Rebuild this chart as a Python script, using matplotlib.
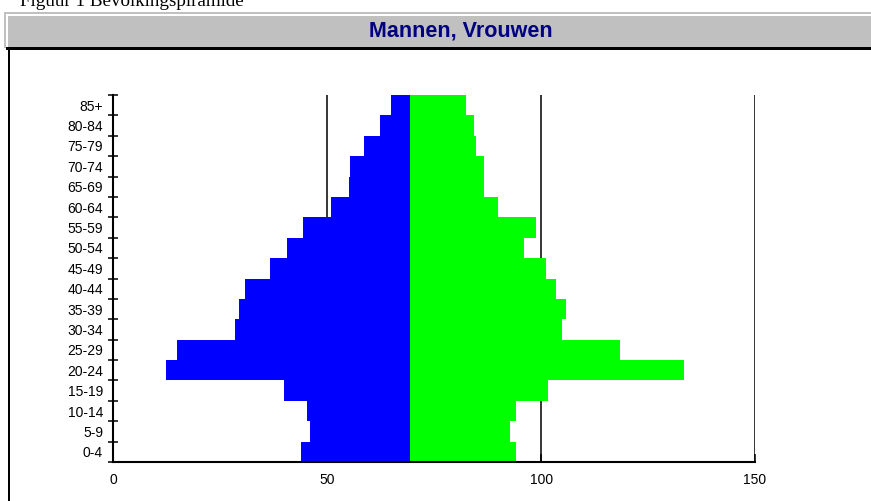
import matplotlib
matplotlib.use('Agg')
import matplotlib.pyplot as plt
from matplotlib.patches import Rectangle
import numpy as np

age_groups = ['0-4', '5-9', '10-14', '15-19', '20-24', '25-29', '30-34', '35-39',
              '40-44', '45-49', '50-54', '55-59', '60-64', '65-69', '70-74',
              '75-79', '80-84', '85+']
mannen = [25.6, 23.4, 24.2, 29.4, 57.0, 54.6, 41.0, 40.1, 38.7, 32.7,
          28.9, 25.1, 18.6, 14.4, 14.0, 10.7, 7.0, 4.6]
vrouwen = [24.7, 23.3, 24.7, 32.1, 63.9, 49.0, 35.5, 36.3, 34.0, 31.7,
           26.5, 29.3, 20.5, 17.3, 17.3, 15.4, 14.9, 13.0]
center = 69.4
x_ticks = [0, 50, 100, 150]
title = 'Mannen, Vrouwen'
caption = 'Figuur 1 Bevolkingspiramide'

W, H = 871, 501
fig = plt.figure(figsize=(W / 100, H / 100), dpi=100)
fig.patch.set_facecolor('white')


def fx(px):
    return px / W


def fy(py):
    return 1 - py / H


def rect(x0, y0, x1, y1, color):
    fig.add_artist(Rectangle((fx(x0), fy(y1)), fx(x1) - fx(x0), fy(y0) - fy(y1),
                             transform=fig.transFigure, facecolor=color,
                             edgecolor='none', zorder=0))


rect(4, 12, 871, 14, '#c0c0c0')
rect(4, 12, 6, 48, '#c0c0c0')
rect(8, 15.7, 871, 47.3, '#c0c0c0')
rect(6, 47.3, 871, 49.5, 'black')
rect(8, 48, 10, 501, 'black')

fig.text(fx(20), fy(6.5), caption, family='Liberation Serif', fontsize=13.7,
         va='baseline', ha='left')
fig.text(fx(461), fy(31.5), title, family='Liberation Sans', weight='bold',
         fontsize=15.5, color='#000080', ha='center', va='center')

ax = fig.add_axes([fx(113.4), fy(462), (755 - 113.4) / W, (462 - 95) / H])
ypos = np.arange(len(age_groups)) + 0.5
m = np.array(mannen)
v = np.array(vrouwen)
ax.barh(ypos, m, left=center - m, height=1, color='#0000ff', zorder=2)
ax.barh(ypos, v, left=center, height=1, color='#00ff00', zorder=2)
for xv in x_ticks[1:]:
    ax.axvline(xv, color='black', lw=1.1, zorder=1)

ax.set_xlim(0, 150)
ax.set_ylim(0, len(age_groups))
for s in ['top', 'right']:
    ax.spines[s].set_visible(False)
for s in ['left', 'bottom']:
    ax.spines[s].set_linewidth(1.5)
    ax.spines[s].set_color('black')
    ax.spines[s].set_zorder(3)

ax.set_yticks(np.arange(len(age_groups) + 1))
ax.set_yticklabels([])
ax.set_yticks(ypos, minor=True)
ax.set_yticklabels(age_groups, minor=True, family='Liberation Sans', fontsize=10)
ax.tick_params(axis='y', which='major', direction='inout', length=6.5, width=1.1)
ax.tick_params(axis='y', which='minor', length=0, pad=7.5)

ax.set_xticks(x_ticks)
ax.set_xticklabels([str(t) for t in x_ticks], family='Liberation Sans', fontsize=10)
ax.tick_params(axis='x', direction='in', length=5.8, width=1.1, pad=8)

fig.savefig('out.png', dpi=100)
